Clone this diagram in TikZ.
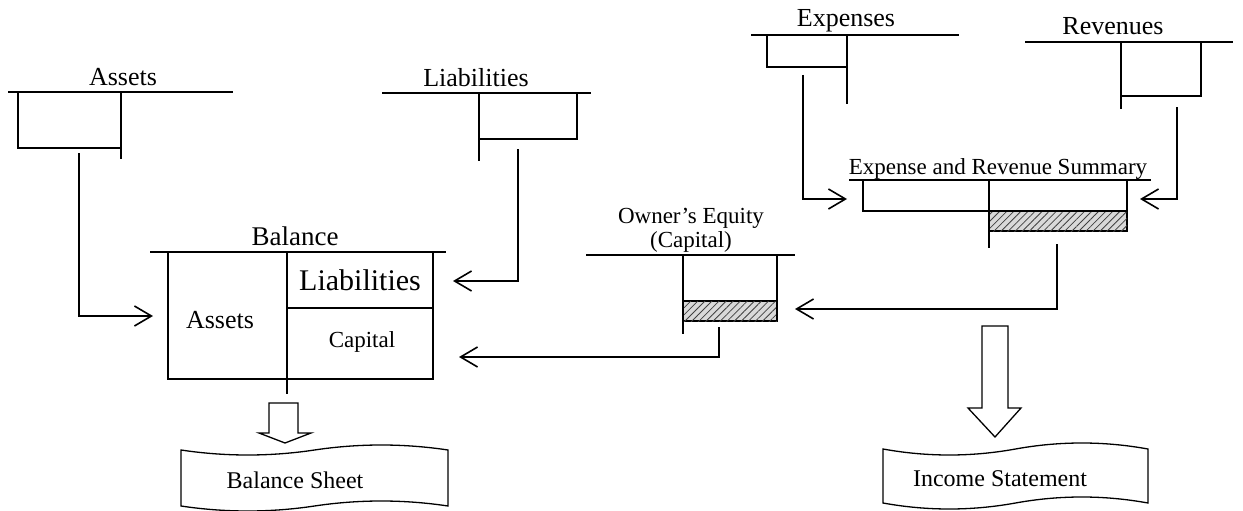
\documentclass[tikz,border=0pt]{standalone}
\usepackage{fontspec}
\setmainfont{Liberation Serif}
\usetikzlibrary{arrows.meta,patterns.meta}
\newcommand{\mydocshape}[5]{%
  % #1 x0, #2 top y, #3 width, #4 height, #5 amplitude
  \draw[docln] (#1,#2)
    .. controls ({#1+#3/6},{#2+4*#5/3}) and ({#1+#3/3},{#2+4*#5/3}) .. ({#1+#3/2},#2)
    .. controls ({#1+2*#3/3},{#2-4*#5/3}) and ({#1+5*#3/6},{#2-4*#5/3}) .. ({#1+#3},#2)
    -- ({#1+#3},{#2+#4})
    .. controls ({#1+5*#3/6},{#2+#4-4*#5/3}) and ({#1+2*#3/3},{#2+#4-4*#5/3}) .. ({#1+#3/2},{#2+#4})
    .. controls ({#1+#3/3},{#2+#4+4*#5/3}) and ({#1+#3/6},{#2+#4+4*#5/3}) .. (#1,{#2+#4})
    -- cycle;}
\begin{document}
\begin{tikzpicture}[x=1pt,y=-1pt,
  ln/.style={line width=1.6pt},
  conn/.style={line width=1.6pt,-{Straight Barb[length=17pt,width=20pt]}},
  lbl/.style={inner sep=0pt,anchor=base,font=\fontsize{26}{30}\selectfont},
  hatchbox/.style={line width=1.6pt,fill=gray!30,
    postaction={pattern={Lines[angle=45,distance=5pt,line width=0.8pt]},pattern color=black!75}},
  hollow/.style={line width=1.3pt,fill=white},
  docln/.style={line width=1.3pt}]
\useasboundingbox (0,0) rectangle (1243,511);

% ---------- Assets T-account
\node[lbl] (assetsL) at (123,85) {Assets};
\draw[ln] (8,92) -- (233,92);
\draw[ln] (18,92) -- (18,148) -- (121,148);
\draw[ln] (121,92) -- (121,159);
\coordinate (a1) at (79,153);
\coordinate (a2) at (153,316);
\draw[conn] (a1) |- (a2);

% ---------- Liabilities T-account
\node[lbl] (liabL) at (476,86) {Liabilities};
\draw[ln] (382,93) -- (591,93);
\draw[ln] (479,93) -- (479,161);
\draw[ln] (479,139) -- (577,139) -- (577,93);
\coordinate (l1) at (518,149);
\coordinate (l2) at (453,281);
\draw[conn] (l1) |- (l2);

% ---------- Balance
\node[lbl,font=\fontsize{27}{30}\selectfont] (balL) at (295,245) {Balance};
\draw[ln] (150,252) -- (446,252);
\draw[ln] (168,252) -- (168,379) -- (433,379) -- (433,252);
\draw[ln] (287,252) -- (287,394);
\draw[ln] (287,308) -- (433,308);
\node[lbl,font=\fontsize{30}{34}\selectfont] (bLiab) at (360,290) {Liabilities};
\node[lbl,font=\fontsize{26}{30}\selectfont] (bAss) at (220,328) {Assets};
\node[lbl,font=\fontsize{23}{27}\selectfont] (bCap) at (362,347) {Capital};

% ---------- Owner's Equity
\node[lbl,font=\fontsize{23}{27}\selectfont] (oeL1) at (691,223) {Owner’s Equity};
\node[lbl,font=\fontsize{23}{27}\selectfont] (oeL2) at (691,247) {(Capital)};
\draw[ln] (586,255) -- (795,255);
\draw[hatchbox] (683,301) rectangle (777,321);
\draw[ln] (683,255) -- (683,334);
\draw[ln] (777,255) -- (777,321);
\coordinate (o1) at (719,327);
\coordinate (o2) at (459,357);
\draw[conn] (o1) |- (o2);

% ---------- Expenses T-account
\node[lbl] (expL) at (846,27) {Expenses};
\draw[ln] (751,35) -- (959,35);
\draw[ln] (767,35) -- (767,67) -- (847,67);
\draw[ln] (847,35) -- (847,104);
\coordinate (e1) at (803,75);
\coordinate (e2) at (847,199);
\draw[conn] (e1) |- (e2);

% ---------- Revenues T-account
\node[lbl] (revL) at (1113,35) {Revenues};
\draw[ln] (1025,42) -- (1233,42);
\draw[ln] (1121,42) -- (1121,109);
\draw[ln] (1121,96) -- (1201,96) -- (1201,42);
\coordinate (r1) at (1177,107);
\coordinate (r2) at (1140,199);
\draw[conn] (r1) |- (r2);

% ---------- Expense and Revenue Summary
\node[lbl,font=\fontsize{23}{27}\selectfont] (sumL) at (998,174) {Expense and Revenue Summary};
\draw[ln] (849,180) -- (1151,180);
\draw[hatchbox] (989,211) rectangle (1127,231);
\draw[ln] (863,180) -- (863,211) -- (1127,211) -- (1127,180);
\draw[ln] (989,180) -- (989,248);
\coordinate (s1) at (1057,244);
\coordinate (s2) at (795,309);
\draw[conn] (s1) |- (s2);

% ---------- hollow arrows
\draw[hollow] (269,403) -- (298,403) -- (298,433) -- (311,433) -- (285,443)
  -- (259,433) -- (269,433) -- cycle;
\draw[hollow] (982,326) -- (1008,326) -- (1008,408) -- (1021,408) -- (995,437)
  -- (968,408) -- (982,408) -- cycle;

% ---------- documents
\mydocshape{181}{450}{267}{56}{5}
\node[lbl,font=\fontsize{24}{28}\selectfont] (bsL) at (295,488) {Balance Sheet};
\mydocshape{883}{449}{265}{54}{6}
\node[lbl,font=\fontsize{24}{28}\selectfont] (isL) at (1000,486) {Income Statement};
\end{tikzpicture}
\end{document}
